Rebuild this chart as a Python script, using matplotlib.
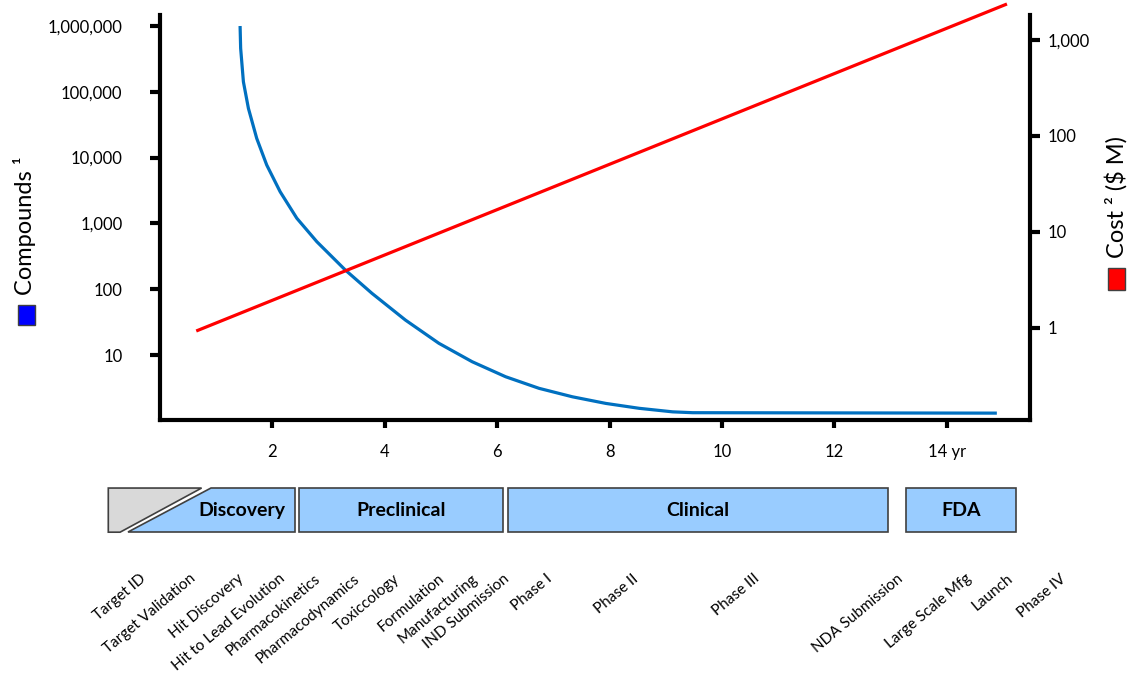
import matplotlib
matplotlib.use('Agg')
import matplotlib.pyplot as plt
from matplotlib.patches import Polygon, Rectangle
from matplotlib.ticker import FixedLocator, NullLocator, FuncFormatter

plt.rcParams['font.family'] = ['Lato', 'DejaVu Sans']

# 化合物数量（左轴，对数）
compound_years = [1.425, 1.435, 1.484, 1.573, 1.721, 1.899, 2.138, 2.434, 2.791,
                  3.297, 3.771, 4.367, 4.961, 5.555, 6.150, 6.744, 7.338, 7.933, 8.527,
                  9.121, 9.478, 14.89]
compound_counts = [1.0e6, 4.58e5, 1.42e5, 5.61e4, 1.96e4, 7.72e3, 3.03e3, 1.20e3, 527,
                   196, 86.7, 34.0, 15.1, 7.91, 4.68, 3.12, 2.32, 1.84, 1.55,
                   1.37, 1.33, 1.31]

# 成本（右轴，对数，$M）
cost_years = [0.645, 15.07]
cost_values = [0.93, 2370]

x_ticks = [2, 4, 6, 8, 10, 12, 14]
x_labels = ['2', '4', '6', '8', '10', '12', '14 yr']
left_ticks = [10, 100, 1000, 10000, 100000, 1000000]
right_ticks = [1, 10, 100, 1000]

phases = ['Discovery', 'Preclinical', 'Clinical', 'FDA']
phase_start = [-0.57, 2.48, 6.19, 13.27]
phase_end = [2.41, 6.10, 12.95, 15.23]
phase_label_x = [1.45, 4.29, 9.57, 14.25]

milestones = ['Target ID', 'Target Validation', 'Hit Discovery', 'Hit to Lead Evolution',
              'Pharmacokinetics', 'Pharmacodynamics', 'Toxiccology', 'Formulation',
              'Manufacturing', 'IND Submission', 'Phase I', 'Phase II', 'Phase III',
              'NDA Submission', 'Large Scale Mfg', 'Launch', 'Phase IV']
milestone_x = [-0.23, 0.65, 1.50, 2.23, 2.86, 3.57, 4.28, 5.07, 5.66, 6.23,
               6.99, 8.53, 10.69, 13.24, 14.46, 15.20, 16.14]

W, H = 1128, 686
fig = plt.figure(figsize=(W / 100, H / 100), dpi=100)
ax = fig.add_axes([160 / W, 1 - 420 / H, 870 / W, 405 / H])
ax2 = ax.twinx()

ax.set_xlim(0, 15.48)
ax.set_yscale('log')
ax.set_ylim(1.03, 1.47e6)
ax2.set_yscale('log')
ax2.set_ylim(0.11, 1820)

ax.plot(compound_years, compound_counts, color='#0070C0', lw=2.3, solid_capstyle='butt',
        solid_joinstyle='round')
ax2.plot(cost_years, cost_values, color='#FF0000', lw=2.3, clip_on=False,
         solid_capstyle='butt')

for a in (ax, ax2):
    a.spines['top'].set_visible(False)
    for s in a.spines.values():
        s.set_linewidth(3)
        s.set_capstyle('projecting')
ax2.spines['left'].set_visible(False)
ax2.spines['bottom'].set_visible(False)
ax.spines['right'].set_visible(False)

fmt = FuncFormatter(lambda v, p: f'{int(round(v)):,}')
ax.yaxis.set_major_locator(FixedLocator(left_ticks))
ax.yaxis.set_minor_locator(NullLocator())
ax.yaxis.set_major_formatter(fmt)
ax2.yaxis.set_major_locator(FixedLocator(right_ticks))
ax2.yaxis.set_minor_locator(NullLocator())
ax2.yaxis.set_major_formatter(fmt)
ax.set_xticks(x_ticks)
ax.set_xticklabels(x_labels)

ax.tick_params(axis='y', length=7, width=3, pad=20, labelsize=12, colors='black')
ax2.tick_params(axis='y', length=7, width=3, pad=6, labelsize=12)
ax.tick_params(axis='x', length=6, width=3, pad=11, labelsize=12)

# 阶段方框
xt = ax.get_xaxis_transform()
top, bot = -0.168, -0.277
edge = '#404040'
ax.add_patch(Polygon([(-0.92, top), (0.74, top), (-0.71, bot), (-0.92, bot)],
                     closed=True, facecolor='#D9D9D9', edgecolor=edge, lw=1.2,
                     transform=xt, clip_on=False))
for i, name in enumerate(phases):
    s, e = phase_start[i], phase_end[i]
    if name == 'Discovery':
        pts = [(0.91, top), (e, top), (e, bot), (s, bot)]
    else:
        pts = [(s, top), (e, top), (e, bot), (s, bot)]
    ax.add_patch(Polygon(pts, closed=True, facecolor='#99CCFF', edgecolor=edge, lw=1.2,
                         transform=xt, clip_on=False))
    ax.text(phase_label_x[i], (top + bot) / 2, name, transform=xt, ha='center',
            va='center', fontsize=14, fontweight='bold')

for name, mx in zip(milestones, milestone_x):
    ax.text(mx, -0.395, name, transform=xt, rotation=40, rotation_mode='anchor',
            ha='right', va='baseline', fontsize=11)

# 轴标题和颜色方块
fig.text(24 / W, 1 - 226 / H, 'Compounds \u00b9', rotation=90, ha='center', va='center',
         fontsize=17)
fig.text(1116 / W, 1 - 197 / H, 'Cost \u00b2 ($ M)', rotation=90, ha='center',
         va='center', fontsize=17)
fig.patches.append(Rectangle((18 / W, 1 - 325 / H), 17 / W, 20 / H, transform=fig.transFigure,
                             facecolor='#0000FF', edgecolor=edge, lw=1))
fig.patches.append(Rectangle((1108 / W, 1 - 290 / H), 17 / W, 22 / H, transform=fig.transFigure,
                             facecolor='#FF0000', edgecolor=edge, lw=1))

fig.savefig('out.png', dpi=100, facecolor='white')
